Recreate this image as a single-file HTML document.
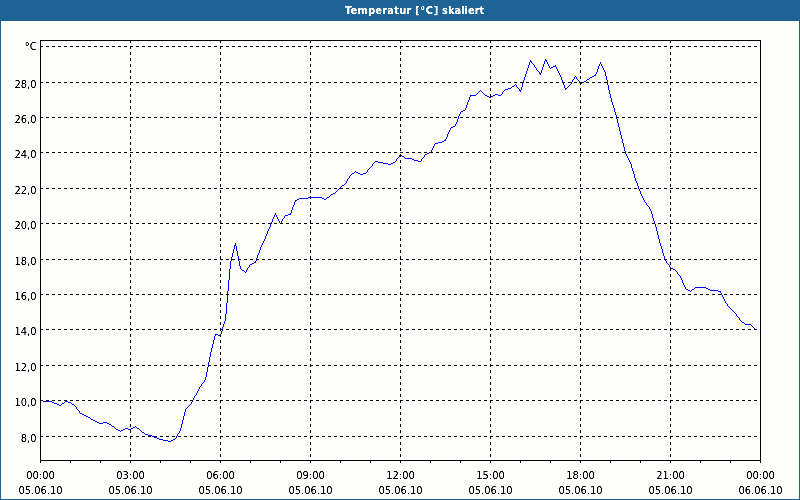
<!DOCTYPE html>
<html lang="de"><head><meta charset="utf-8"><title>Temperatur [°C] skaliert</title>
<style>
html,body{margin:0;padding:0;}
body{width:800px;height:500px;overflow:hidden;background:#fdfefc;font-family:"DejaVu Sans Condensed","Liberation Sans",sans-serif;}
#win{position:relative;width:800px;height:500px;box-sizing:border-box;background:#fdfefc;overflow:hidden;}
#bar{position:absolute;left:0;top:0;width:800px;height:21px;background:#1e6396;}
#title{position:absolute;left:0;top:0;width:800px;height:21px;line-height:21px;color:#fff;font-weight:bold;font-size:11px;white-space:nowrap;filter:url(#crisp);}
#title span{position:absolute;top:0;}
.edge{position:absolute;background:#1e6396;}
svg{position:absolute;left:0;top:0;}
svg text{font-family:"DejaVu Sans Condensed","Liberation Sans",sans-serif;font-size:11px;fill:#000;}
</style></head><body>
<div id="win">
<div id="bar"></div>
<div class="edge" style="left:0;top:0;width:1px;height:500px"></div>
<div class="edge" style="left:799px;top:0;width:1px;height:500px"></div>
<div class="edge" style="left:0;top:499px;width:800px;height:1px"></div>
<div id="title"><span style="left:345px;letter-spacing:0.22px">Temperatur</span> <span style="left:415px;letter-spacing:0.67px">[°C]</span> <span style="left:442px">skaliert</span></div>
<svg width="800" height="500" viewBox="0 0 800 500">
<defs><filter id="crisp" filterUnits="userSpaceOnUse" x="0" y="0" width="800" height="500" color-interpolation-filters="sRGB"><feComponentTransfer><feFuncA type="linear" slope="2" intercept="-0.4"/></feComponentTransfer></filter></defs>

<path id="curve" d="M43 401h9v1h-9zM52 402h2v1h-2zM54 403h3v1h-3zM57 404h2v1h-2zM59 405h2v1h-2zM61 404h1v1h-1zM62 403h2v1h-2zM64 402h1v1h-1zM65 401h3v1h-3zM68 402h3v1h-3zM71 403h1v1h-1zM72 404h2v1h-2zM74 405h1v1h-1zM75 406h1v1h-1zM76 407h1v2h-1zM77 409h1v1h-1zM78 410h1v1h-1zM79 411h1v2h-1zM80 413h2v1h-2zM82 414h2v1h-2zM84 415h2v1h-2zM86 416h2v1h-2zM88 417h2v1h-2zM90 418h1v1h-1zM91 419h2v1h-2zM93 420h2v1h-2zM95 421h2v1h-2zM97 422h2v1h-2zM99 423h4v1h-4zM103 422h4v1h-4zM107 423h2v1h-2zM109 424h2v1h-2zM111 425h1v1h-1zM112 426h2v1h-2zM114 427h1v1h-1zM115 428h1v1h-1zM116 429h2v1h-2zM118 430h2v1h-2zM120 431h1v1h-1zM121 430h2v1h-2zM123 429h2v1h-2zM125 428h3v1h-3zM128 429h3v1h-3zM131 428h2v1h-2zM133 427h2v1h-2zM135 426h1v1h-1zM136 427h1v1h-1zM137 428h2v1h-2zM139 429h1v1h-1zM140 430h1v1h-1zM141 431h1v1h-1zM142 432h2v1h-2zM144 433h1v1h-1zM145 434h3v1h-3zM148 435h4v1h-4zM152 436h2v1h-2zM154 437h3v1h-3zM157 438h2v1h-2zM159 439h4v1h-4zM163 440h5v1h-5zM168 441h3v1h-3zM171 440h2v1h-2zM173 439h2v1h-2zM175 438h1v1h-1zM176 436h1v2h-1zM177 434h1v2h-1zM178 433h1v1h-1zM179 431h1v2h-1zM180 428h1v3h-1zM181 424h1v4h-1zM182 420h1v4h-1zM183 416h1v4h-1zM184 412h1v4h-1zM185 409h1v3h-1zM186 408h1v1h-1zM187 407h1v1h-1zM188 406h1v1h-1zM189 405h1v1h-1zM190 404h1v1h-1zM191 402h1v2h-1zM192 400h1v2h-1zM193 398h1v2h-1zM194 396h1v2h-1zM195 395h1v1h-1zM196 393h1v2h-1zM197 391h1v2h-1zM198 389h1v2h-1zM199 387h1v2h-1zM200 386h1v1h-1zM201 384h1v2h-1zM202 383h1v1h-1zM203 382h1v1h-1zM204 380h1v2h-1zM205 377h1v3h-1zM206 372h1v5h-1zM207 367h1v5h-1zM208 362h1v5h-1zM209 357h1v5h-1zM210 352h1v5h-1zM211 348h1v4h-1zM212 344h1v4h-1zM213 340h1v4h-1zM214 336h1v4h-1zM215 334h1v2h-1zM216 334h2v1h-2zM218 335h2v1h-2zM220 334h1v2h-1zM221 331h1v3h-1zM222 327h1v4h-1zM223 324h1v3h-1zM224 321h1v3h-1zM225 314h1v7h-1zM226 303h1v11h-1zM227 291h1v12h-1zM228 280h1v11h-1zM229 269h1v11h-1zM230 261h1v8h-1zM231 257h1v4h-1zM232 253h1v4h-1zM233 249h1v4h-1zM234 245h1v4h-1zM235 243h1v3h-1zM236 246h1v5h-1zM237 251h1v5h-1zM238 256h1v5h-1zM239 261h1v5h-1zM240 266h1v3h-1zM241 269h1v1h-1zM242 270h2v1h-2zM244 271h1v1h-1zM245 272h1v1h-1zM246 270h1v2h-1zM247 268h1v2h-1zM248 267h1v1h-1zM249 265h1v2h-1zM250 264h2v1h-2zM252 263h2v1h-2zM254 262h1v1h-1zM255 261h1v2h-1zM256 258h1v3h-1zM257 255h1v3h-1zM258 253h1v2h-1zM259 250h1v3h-1zM260 247h1v3h-1zM261 245h1v2h-1zM262 243h1v2h-1zM263 241h1v2h-1zM264 239h1v2h-1zM265 236h1v3h-1zM266 234h1v2h-1zM267 231h1v3h-1zM268 229h1v2h-1zM269 227h1v2h-1zM270 224h1v3h-1zM271 222h1v2h-1zM272 219h1v3h-1zM273 217h1v2h-1zM274 215h1v2h-1zM275 213h1v2h-1zM276 215h1v2h-1zM277 217h1v2h-1zM278 219h1v2h-1zM279 221h1v2h-1zM280 223h1v1h-1zM281 221h1v2h-1zM282 219h1v2h-1zM283 218h1v1h-1zM284 216h1v2h-1zM285 215h3v1h-3zM288 214h2v1h-2zM290 213h1v2h-1zM291 210h1v3h-1zM292 207h1v3h-1zM293 205h1v2h-1zM294 202h1v3h-1zM295 200h1v2h-1zM296 200h1v1h-1zM297 199h2v1h-2zM299 198h9v1h-9zM308 197h14v1h-14zM322 198h2v1h-2zM324 199h2v1h-2zM326 198h1v1h-1zM327 197h2v1h-2zM329 196h1v1h-1zM330 195h1v1h-1zM331 194h2v1h-2zM333 193h2v1h-2zM335 192h1v1h-1zM336 191h1v1h-1zM337 190h1v1h-1zM338 189h1v1h-1zM339 188h1v1h-1zM340 187h1v1h-1zM341 186h1v1h-1zM342 185h2v1h-2zM344 184h1v1h-1zM345 183h1v1h-1zM346 181h1v2h-1zM347 179h1v2h-1zM348 178h1v1h-1zM349 176h1v2h-1zM350 175h1v1h-1zM351 174h1v1h-1zM352 173h2v1h-2zM354 172h1v1h-1zM355 171h1v1h-1zM356 172h2v1h-2zM358 173h2v1h-2zM360 174h3v1h-3zM363 173h3v1h-3zM366 172h1v1h-1zM367 170h1v2h-1zM368 169h1v1h-1zM369 168h1v1h-1zM370 167h1v1h-1zM371 166h1v1h-1zM372 164h1v2h-1zM373 163h1v1h-1zM374 162h1v1h-1zM375 161h3v1h-3zM378 162h5v1h-5zM383 163h5v1h-5zM388 164h3v1h-3zM391 163h2v1h-2zM393 162h2v1h-2zM395 161h1v1h-1zM396 159h1v2h-1zM397 158h1v1h-1zM398 157h1v1h-1zM399 155h1v2h-1zM400 154h1v1h-1zM401 155h1v1h-1zM402 156h2v1h-2zM404 157h1v1h-1zM405 158h7v1h-7zM412 159h2v1h-2zM414 160h4v1h-4zM418 161h3v1h-3zM421 159h1v2h-1zM422 158h1v1h-1zM423 157h1v1h-1zM424 155h1v2h-1zM425 154h2v1h-2zM427 153h2v1h-2zM429 152h2v1h-2zM431 150h1v2h-1zM432 148h1v2h-1zM433 146h1v2h-1zM434 144h1v2h-1zM435 143h3v1h-3zM438 142h4v1h-4zM442 141h2v1h-2zM444 140h1v1h-1zM445 139h1v2h-1zM446 137h1v2h-1zM447 134h1v3h-1zM448 132h1v2h-1zM449 130h1v2h-1zM450 128h1v2h-1zM451 127h2v1h-2zM453 126h2v1h-2zM455 124h1v2h-1zM456 122h1v2h-1zM457 119h1v3h-1zM458 116h1v3h-1zM459 114h1v2h-1zM460 112h1v2h-1zM461 111h2v1h-2zM463 110h2v1h-2zM465 108h1v2h-1zM466 105h1v3h-1zM467 102h1v3h-1zM468 100h1v2h-1zM469 97h1v3h-1zM470 95h1v2h-1zM471 95h5v1h-5zM476 94h1v1h-1zM477 93h1v1h-1zM478 92h1v1h-1zM479 91h1v1h-1zM480 90h1v1h-1zM481 91h1v1h-1zM482 92h1v1h-1zM483 93h1v1h-1zM484 94h1v1h-1zM485 95h2v1h-2zM487 96h2v1h-2zM489 97h2v1h-2zM491 96h2v1h-2zM493 95h2v1h-2zM495 94h3v1h-3zM498 95h3v1h-3zM501 94h1v1h-1zM502 92h1v2h-1zM503 91h1v1h-1zM504 90h1v1h-1zM505 89h3v1h-3zM508 88h3v1h-3zM511 87h1v1h-1zM512 86h2v1h-2zM514 85h1v1h-1zM515 84h1v1h-1zM516 85h1v2h-1zM517 87h1v1h-1zM518 88h1v1h-1zM519 89h1v2h-1zM520 90h1v2h-1zM521 87h1v3h-1zM522 83h1v4h-1zM523 80h1v3h-1zM524 77h1v3h-1zM525 74h1v3h-1zM526 71h1v3h-1zM527 68h1v3h-1zM528 65h1v3h-1zM529 62h1v3h-1zM530 60h1v2h-1zM531 61h1v2h-1zM532 63h1v1h-1zM533 64h1v1h-1zM534 65h1v2h-1zM535 67h1v1h-1zM536 68h1v2h-1zM537 70h1v1h-1zM538 71h1v1h-1zM539 72h1v2h-1zM540 73h1v2h-1zM541 70h1v3h-1zM542 67h1v3h-1zM543 64h1v3h-1zM544 61h1v3h-1zM545 59h1v2h-1zM546 60h1v2h-1zM547 62h1v2h-1zM548 64h1v2h-1zM549 66h1v2h-1zM550 68h1v1h-1zM551 67h2v1h-2zM553 66h2v1h-2zM555 65h1v2h-1zM556 67h1v2h-1zM557 69h1v2h-1zM558 71h1v2h-1zM559 73h1v2h-1zM560 75h1v2h-1zM561 77h1v3h-1zM562 80h1v3h-1zM563 83h1v2h-1zM564 85h1v3h-1zM565 88h1v2h-1zM566 88h1v1h-1zM567 87h1v1h-1zM568 86h1v1h-1zM569 85h1v1h-1zM570 84h1v1h-1zM571 82h1v2h-1zM572 80h1v2h-1zM573 79h1v1h-1zM574 77h1v2h-1zM575 76h1v1h-1zM576 77h1v2h-1zM577 79h1v1h-1zM578 80h1v1h-1zM579 81h1v2h-1zM580 83h2v1h-2zM582 82h2v1h-2zM584 81h2v1h-2zM586 80h1v1h-1zM587 79h2v1h-2zM589 78h1v1h-1zM590 77h2v1h-2zM592 76h2v1h-2zM594 75h1v1h-1zM595 74h1v2h-1zM596 72h1v2h-1zM597 69h1v3h-1zM598 66h1v3h-1zM599 64h1v2h-1zM600 62h1v2h-1zM601 64h1v2h-1zM602 66h1v2h-1zM603 68h1v2h-1zM604 70h1v2h-1zM605 72h1v4h-1zM606 76h1v4h-1zM607 80h1v5h-1zM608 85h1v5h-1zM609 90h1v4h-1zM610 94h1v4h-1zM611 98h1v4h-1zM612 102h1v3h-1zM613 105h1v3h-1zM614 108h1v4h-1zM615 112h1v3h-1zM616 115h1v4h-1zM617 119h1v4h-1zM618 123h1v4h-1zM619 127h1v4h-1zM620 131h1v4h-1zM621 135h1v4h-1zM622 139h1v4h-1zM623 143h1v4h-1zM624 147h1v4h-1zM625 151h1v3h-1zM626 154h1v2h-1zM627 156h1v2h-1zM628 158h1v2h-1zM629 160h1v2h-1zM630 162h1v2h-1zM631 164h1v4h-1zM632 168h1v3h-1zM633 171h1v3h-1zM634 174h1v4h-1zM635 178h1v3h-1zM636 181h1v2h-1zM637 183h1v3h-1zM638 186h1v3h-1zM639 189h1v2h-1zM640 191h1v3h-1zM641 194h1v2h-1zM642 196h1v2h-1zM643 198h1v2h-1zM644 200h1v2h-1zM645 202h1v1h-1zM646 203h1v2h-1zM647 205h1v1h-1zM648 206h1v1h-1zM649 207h1v2h-1zM650 209h1v2h-1zM651 211h1v3h-1zM652 214h1v4h-1zM653 218h1v3h-1zM654 221h1v3h-1zM655 224h1v3h-1zM656 227h1v4h-1zM657 231h1v4h-1zM658 235h1v4h-1zM659 239h1v4h-1zM660 243h1v3h-1zM661 246h1v3h-1zM662 249h1v4h-1zM663 253h1v3h-1zM664 256h1v3h-1zM665 259h1v2h-1zM666 261h1v2h-1zM667 263h1v1h-1zM668 264h1v1h-1zM669 265h1v2h-1zM670 267h1v1h-1zM671 268h2v1h-2zM673 269h2v1h-2zM675 270h1v1h-1zM676 271h1v1h-1zM677 272h1v2h-1zM678 274h1v1h-1zM679 275h1v1h-1zM680 276h1v2h-1zM681 278h1v2h-1zM682 280h1v3h-1zM683 283h1v2h-1zM684 285h1v2h-1zM685 287h1v2h-1zM686 289h2v1h-2zM688 290h2v1h-2zM690 291h1v1h-1zM691 290h1v1h-1zM692 289h2v1h-2zM694 288h1v1h-1zM695 287h11v1h-11zM706 288h2v1h-2zM708 289h2v1h-2zM710 290h8v1h-8zM718 291h2v1h-2zM720 291h1v2h-1zM721 293h1v2h-1zM722 295h1v2h-1zM723 297h1v2h-1zM724 299h1v2h-1zM725 301h1v2h-1zM726 303h1v1h-1zM727 304h1v2h-1zM728 306h1v1h-1zM729 307h1v1h-1zM730 308h1v1h-1zM731 309h1v1h-1zM732 310h1v1h-1zM733 311h1v1h-1zM734 312h1v1h-1zM735 313h1v1h-1zM736 314h1v2h-1zM737 316h1v1h-1zM738 317h1v1h-1zM739 318h1v2h-1zM740 320h1v1h-1zM741 321h1v1h-1zM742 322h2v1h-2zM744 323h1v1h-1zM745 324h6v1h-6zM751 325h1v1h-1zM752 326h1v1h-1zM753 327h1v1h-1zM754 328h1v1h-1zM755 329h1v1h-1z" fill="#0000ff" shape-rendering="crispEdges"/>
<g shape-rendering="crispEdges" stroke="#000" stroke-width="1" fill="none">
<line x1="40" y1="46.5" x2="760" y2="46.5" stroke-dasharray="3 3"/>
<line x1="40" y1="82.5" x2="760" y2="82.5" stroke-dasharray="3 3"/>
<line x1="40" y1="117.5" x2="760" y2="117.5" stroke-dasharray="3 3"/>
<line x1="40" y1="152.5" x2="760" y2="152.5" stroke-dasharray="3 3"/>
<line x1="40" y1="188.5" x2="760" y2="188.5" stroke-dasharray="3 3"/>
<line x1="40" y1="223.5" x2="760" y2="223.5" stroke-dasharray="3 3"/>
<line x1="40" y1="259.5" x2="760" y2="259.5" stroke-dasharray="3 3"/>
<line x1="40" y1="294.5" x2="760" y2="294.5" stroke-dasharray="3 3"/>
<line x1="40" y1="329.5" x2="760" y2="329.5" stroke-dasharray="3 3"/>
<line x1="40" y1="365.5" x2="760" y2="365.5" stroke-dasharray="3 3"/>
<line x1="40" y1="400.5" x2="760" y2="400.5" stroke-dasharray="3 3"/>
<line x1="40" y1="436.5" x2="760" y2="436.5" stroke-dasharray="3 3"/>
<line x1="130.5" y1="40" x2="130.5" y2="460" stroke-dasharray="3 3"/>
<line x1="220.5" y1="40" x2="220.5" y2="460" stroke-dasharray="3 3"/>
<line x1="310.5" y1="40" x2="310.5" y2="460" stroke-dasharray="3 3"/>
<line x1="400.5" y1="40" x2="400.5" y2="460" stroke-dasharray="3 3"/>
<line x1="490.5" y1="40" x2="490.5" y2="460" stroke-dasharray="3 3"/>
<line x1="580.5" y1="40" x2="580.5" y2="460" stroke-dasharray="3 3"/>
<line x1="670.5" y1="40" x2="670.5" y2="460" stroke-dasharray="3 3"/>
<rect x="40.5" y="40.5" width="720" height="420"/>
<line x1="40.5" y1="461" x2="40.5" y2="463"/>
<line x1="70.5" y1="461" x2="70.5" y2="463"/>
<line x1="100.5" y1="461" x2="100.5" y2="463"/>
<line x1="130.5" y1="461" x2="130.5" y2="463"/>
<line x1="160.5" y1="461" x2="160.5" y2="463"/>
<line x1="190.5" y1="461" x2="190.5" y2="463"/>
<line x1="220.5" y1="461" x2="220.5" y2="463"/>
<line x1="250.5" y1="461" x2="250.5" y2="463"/>
<line x1="280.5" y1="461" x2="280.5" y2="463"/>
<line x1="310.5" y1="461" x2="310.5" y2="463"/>
<line x1="340.5" y1="461" x2="340.5" y2="463"/>
<line x1="370.5" y1="461" x2="370.5" y2="463"/>
<line x1="400.5" y1="461" x2="400.5" y2="463"/>
<line x1="430.5" y1="461" x2="430.5" y2="463"/>
<line x1="460.5" y1="461" x2="460.5" y2="463"/>
<line x1="490.5" y1="461" x2="490.5" y2="463"/>
<line x1="520.5" y1="461" x2="520.5" y2="463"/>
<line x1="550.5" y1="461" x2="550.5" y2="463"/>
<line x1="580.5" y1="461" x2="580.5" y2="463"/>
<line x1="610.5" y1="461" x2="610.5" y2="463"/>
<line x1="640.5" y1="461" x2="640.5" y2="463"/>
<line x1="670.5" y1="461" x2="670.5" y2="463"/>
<line x1="700.5" y1="461" x2="700.5" y2="463"/>
<line x1="730.5" y1="461" x2="730.5" y2="463"/>
<line x1="760.5" y1="461" x2="760.5" y2="463"/>
</g>
<g id="labels" filter="url(#crisp)">
<text y="50"><tspan x="24.4" font-size="12.5" dy="1.4">°</tspan><tspan x="29.7" dy="-1.4">C</tspan></text>
<text x="36.5" y="88" text-anchor="end">28,0</text>
<text x="36.5" y="123" text-anchor="end">26,0</text>
<text x="36.5" y="158" text-anchor="end">24,0</text>
<text x="36.5" y="194" text-anchor="end">22,0</text>
<text x="36.5" y="229" text-anchor="end">20,0</text>
<text x="36.5" y="265" text-anchor="end">18,0</text>
<text x="36.5" y="300" text-anchor="end">16,0</text>
<text x="36.5" y="335" text-anchor="end">14,0</text>
<text x="36.5" y="371" text-anchor="end">12,0</text>
<text x="36.5" y="406" text-anchor="end">10,0</text>
<text x="36.5" y="442" text-anchor="end">8,0</text>
<text x="40.5" y="479" text-anchor="middle">00:00</text>
<text x="40.5" y="494" text-anchor="middle">05.06.10</text>
<text x="130.5" y="479" text-anchor="middle">03:00</text>
<text x="130.5" y="494" text-anchor="middle">05.06.10</text>
<text x="220.5" y="479" text-anchor="middle">06:00</text>
<text x="220.5" y="494" text-anchor="middle">05.06.10</text>
<text x="310.5" y="479" text-anchor="middle">09:00</text>
<text x="310.5" y="494" text-anchor="middle">05.06.10</text>
<text x="400.5" y="479" text-anchor="middle">12:00</text>
<text x="400.5" y="494" text-anchor="middle">05.06.10</text>
<text x="490.5" y="479" text-anchor="middle">15:00</text>
<text x="490.5" y="494" text-anchor="middle">05.06.10</text>
<text x="580.5" y="479" text-anchor="middle">18:00</text>
<text x="580.5" y="494" text-anchor="middle">05.06.10</text>
<text x="670.5" y="479" text-anchor="middle">21:00</text>
<text x="670.5" y="494" text-anchor="middle">05.06.10</text>
<text x="760.5" y="479" text-anchor="middle">00:00</text>
<text x="760.5" y="494" text-anchor="middle">06.06.10</text>
</g>
</svg>
</div>
</body></html>
